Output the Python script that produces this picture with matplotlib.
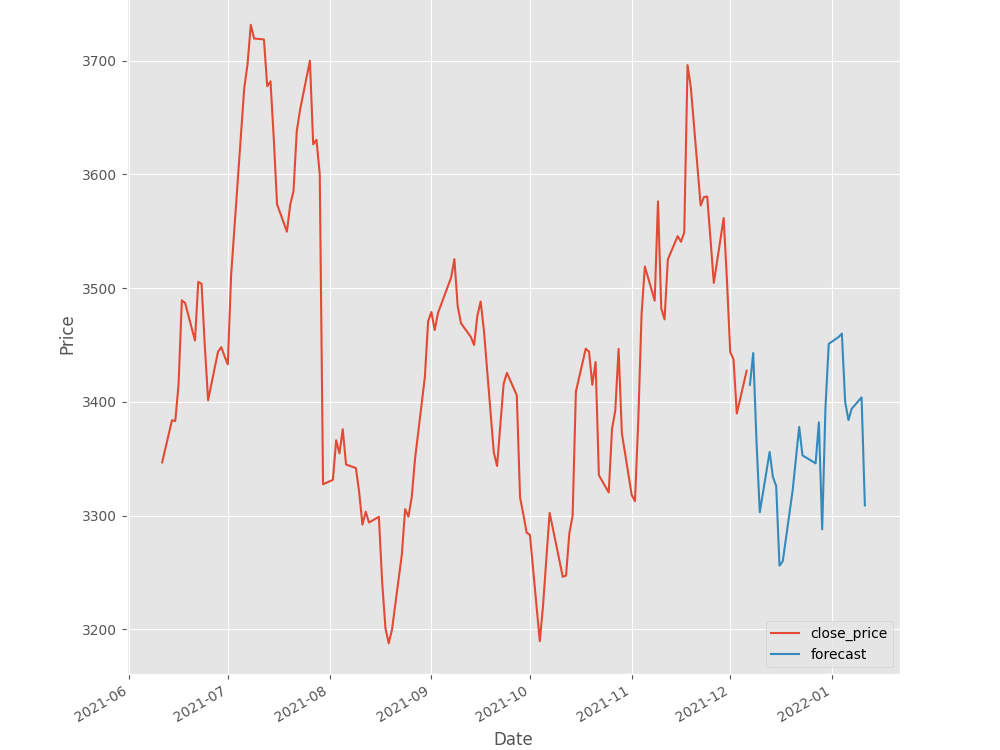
import matplotlib
matplotlib.use("Agg")
import matplotlib.pyplot as plt
import pandas as pd

plt.style.use("ggplot")

holidays = ["2021-07-05", "2021-09-06", "2021-11-25", "2021-12-24"]

close_start, close_end = "2021-06-11", "2021-12-06"
close_price = [
    3346.83, 3383.87, 3383.13, 3415.25, 3489.24, 3486.90, 3453.96, 3505.44, 3503.82, 3449.08,
    3401.46, 3443.89, 3448.14, 3440.16,
    3432.97, 3510.98, 3675.74, 3696.58, 3731.41, 3719.34, 3718.55, 3677.36, 3681.68, 3631.20,
    3573.63, 3549.59, 3573.19, 3585.20, 3638.03, 3656.64, 3699.82, 3626.39, 3630.32, 3599.92,
    3327.59,
    3331.48, 3366.24, 3354.72, 3375.99, 3344.94, 3341.87, 3320.68, 3292.11, 3303.50, 3293.97,
    3298.99, 3241.96, 3201.22, 3187.75, 3199.95, 3265.87, 3305.78, 3299.18, 3316.00, 3349.63,
    3421.57, 3470.79,
    3479.00, 3463.12, 3478.05, 3509.29, 3525.50, 3484.16, 3469.15, 3457.17, 3450.00, 3475.79,
    3488.24, 3462.52, 3355.73, 3343.63, 3380.05, 3416.00, 3425.52, 3405.80, 3315.96, 3301.12,
    3285.04,
    3283.26, 3189.78, 3221.00, 3262.01, 3302.43, 3288.62, 3246.30, 3247.33, 3284.28, 3299.86,
    3409.02, 3446.74, 3444.15, 3415.06, 3435.01, 3335.55, 3320.37, 3376.07, 3392.49, 3446.57,
    3372.43,
    3318.11, 3312.75, 3384.00, 3477.00, 3518.99, 3488.98, 3576.23, 3482.05, 3472.50, 3525.15,
    3545.68, 3540.70, 3549.00, 3696.06, 3676.57, 3572.57, 3580.04, 3580.41, 3504.56, 3561.57,
    3507.07,
    3443.72, 3437.36, 3389.79, 3427.37,
]

forecast_start, forecast_end = "2021-12-07", "2022-01-11"
forecast = [
    3415, 3443, 3365, 3303, 3356, 3334, 3326, 3256, 3260, 3322,
    3350, 3378, 3353, 3346, 3382, 3288, 3395, 3451, 3457, 3460,
    3400, 3384, 3394, 3404, 3309,
]

close_dates = pd.bdate_range(close_start, close_end, freq="C", holidays=holidays)
forecast_dates = pd.bdate_range(forecast_start, forecast_end, freq="C", holidays=holidays)
assert len(close_dates) == len(close_price), (len(close_dates), len(close_price))
assert len(forecast_dates) == len(forecast), (len(forecast_dates), len(forecast))

fig = plt.figure(figsize=(10, 7.5), dpi=100)
ax = fig.add_axes([0.127, 0.1009, 0.773, 0.9073])
ax.plot(close_dates, close_price, label="close_price")
ax.plot(forecast_dates, forecast, label="forecast")
ax.set_xlabel("Date")
ax.set_ylabel("Price")
ax.legend(loc="lower right")
for lbl in ax.get_xticklabels():
    lbl.set_rotation(30)
    lbl.set_ha("right")

fig.savefig("out.png", dpi=100)
